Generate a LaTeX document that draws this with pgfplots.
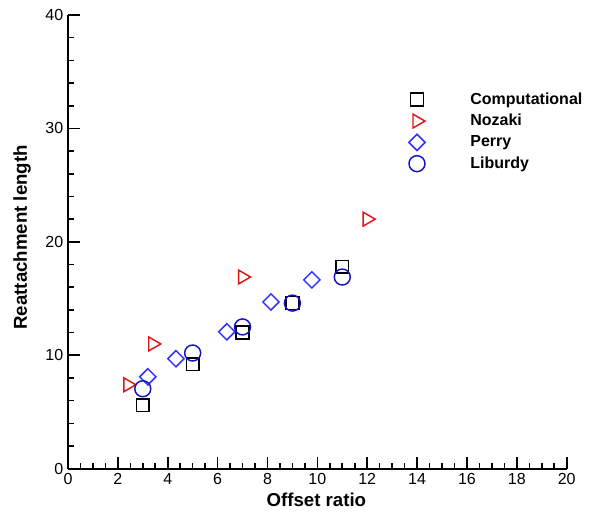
\documentclass[border=0pt]{standalone}
\usepackage{fontspec}
\setmainfont{Liberation Sans}
\usepackage{pgfplots}
\pgfplotsset{compat=1.18}
\definecolor{nred}{RGB}{228,20,20}
\definecolor{pblue}{RGB}{50,50,255}
\definecolor{lblue}{RGB}{20,20,190}
\begin{document}
\begin{tikzpicture}
\begin{axis}[
  scale only axis, width=374.25pt, height=340.5pt,
  xmin=0, xmax=20, ymin=0, ymax=40,
  axis x line=bottom, axis y line=left,
  axis line style={-, line width=1.5pt},
  xtick={0,2,...,20}, ytick={0,10,...,40},
  minor x tick num=3, minor y tick num=4,
  tick align=inside, major tick length=9pt, minor tick length=4.5pt,
  every tick/.style={line width=1.2pt, black},
  /pgf/number format/assume math mode=true,
  ticklabel style={font=\fontsize{12}{14}\selectfont},
  every axis x label/.style={at={(rel axis cs:0.498,-0.068)}, anchor=center},
  every axis y label/.style={at={(rel axis cs:-0.092,0.51)}, anchor=center, rotate=90},
  label style={font=\fontsize{14}{16}\selectfont\bfseries},
  xlabel={Offset ratio}, ylabel={Reattachment length},
  clip=false,
  legend style={at={(rel axis cs:0.675,0.841)}, anchor=north west, draw=none, fill=none,
    font=\fontsize{12}{14}\selectfont\bfseries, row sep=2pt,
    /tikz/every odd column/.append style={column sep=32pt}},
  legend cell align=left,
]
\path (rel axis cs:-0.1363,-0.0947) rectangle (rel axis cs:1.0441,1.0330);
\addplot[only marks, mark=square, mark size=4.8pt, black, line width=1.1pt] coordinates {
  (3,5.6) (5,9.2) (7,12.0) (9,14.6) (11,17.8)};
\addlegendentry{Computational}
\addplot[only marks, mark=triangle, mark size=6pt, nred, line width=1.1pt, mark options={rotate=-90}] coordinates {
  (2.4,7.4) (3.4,11.0) (7,16.9) (12,22.0)};
\addlegendentry{Nozaki}
\addplot[only marks, mark=square, mark size=4.3pt, pblue, line width=1.1pt, mark options={rotate=45}] coordinates {
  (3.2,8.1) (4.33,9.7) (6.37,12.07) (8.14,14.7) (9.78,16.65)};
\addlegendentry{Perry}
\addplot[only marks, mark=o, mark size=6pt, lblue, line width=1.1pt] coordinates {
  (3.0,7.05) (5.0,10.2) (7.0,12.5) (9.0,14.6) (11.0,16.9)};
\addlegendentry{Liburdy}
\end{axis}
\end{tikzpicture}
\end{document}
